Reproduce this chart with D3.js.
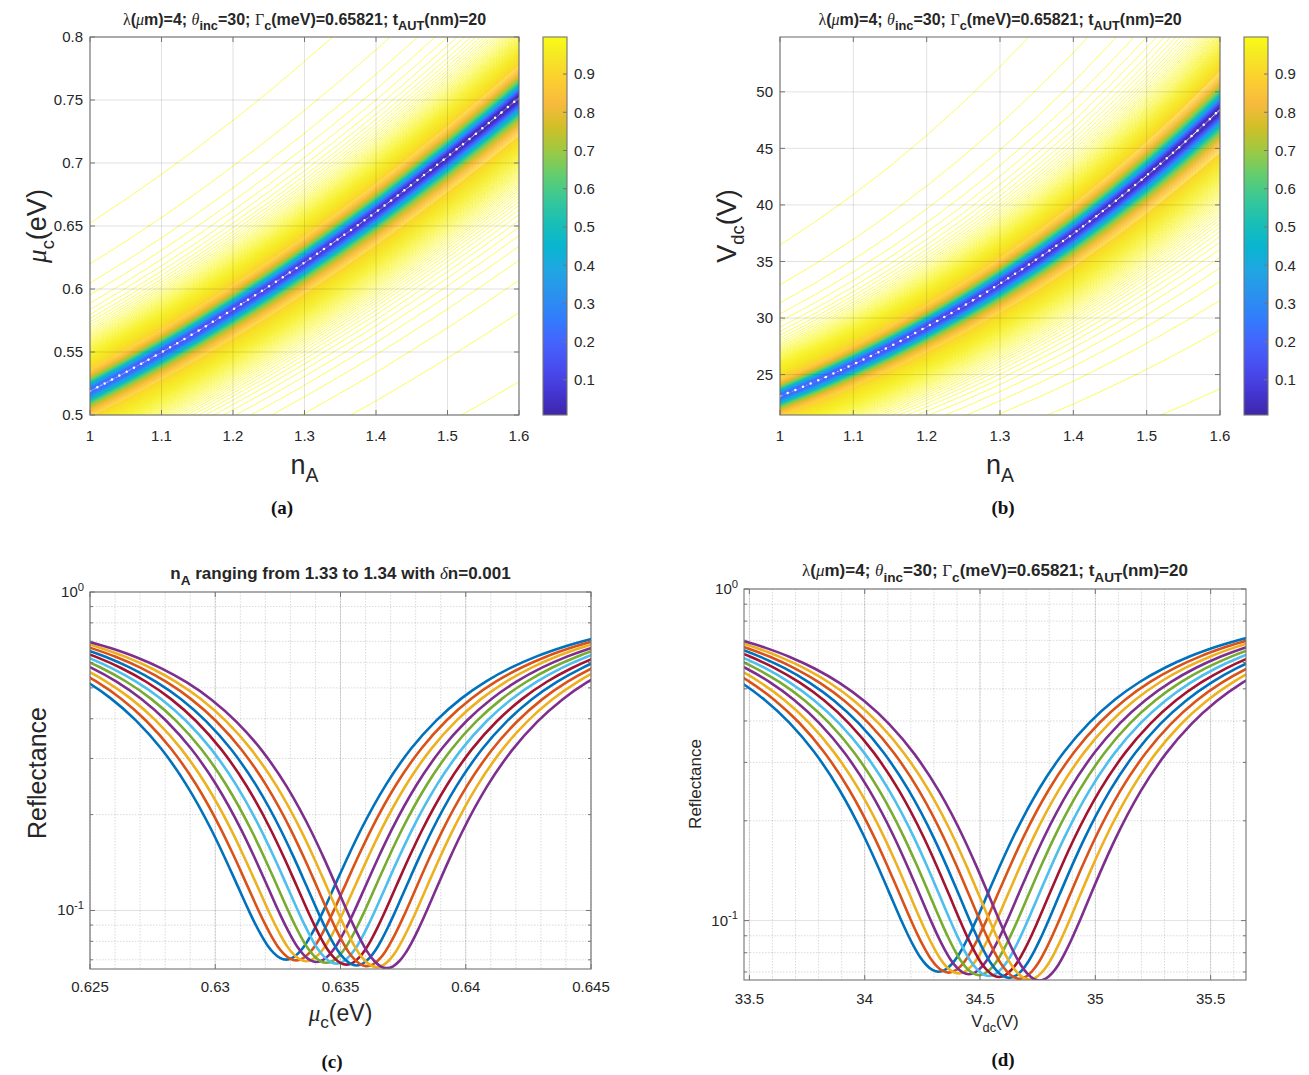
<!DOCTYPE html>
<html>
<head>
<meta charset="utf-8">
<script src="https://cdn.jsdelivr.net/npm/d3@7/dist/d3.min.js"></script>
<style>
html,body{margin:0;padding:0;background:#fff;}
svg text{white-space:pre;}
</style>
</head>
<body>
<svg id="fig" width="1309" height="1075" xmlns="http://www.w3.org/2000/svg"></svg>
<script>
// ================= DATA =================
// panels (a),(b): reflectance map
const nARange = [1, 1.6];
const muRange = [0.5, 0.8];
const nATicks = [1, 1.1, 1.2, 1.3, 1.4, 1.5, 1.6];
const muTicks = [0.5, 0.55, 0.6, 0.65, 0.7, 0.75, 0.8];
const vdcTicks = [25, 30, 35, 40, 45, 50];
const colorbarTicks = [0.1, 0.2, 0.3, 0.4, 0.5, 0.6, 0.7, 0.8, 0.9];
const colorbarRange = [0.008, 0.997];
const voltPerEV2 = 85.7;

const ridgeNA   = [1.00, 1.05, 1.10, 1.15, 1.20, 1.25, 1.30, 1.35, 1.40, 1.45, 1.50, 1.55, 1.60];
const ridgeMu   = [0.5190, 0.5340, 0.5498, 0.5664, 0.5839, 0.6020, 0.6210, 0.6408, 0.6612, 0.6829, 0.7051, 0.7281, 0.7518];
const ridgeRmin = [0.22, 0.19, 0.165, 0.14, 0.12, 0.10, 0.082, 0.064, 0.048, 0.034, 0.022, 0.013, 0.008];
const ridgeWidth = {up: 0.030, low: 0.035, tail: 1.25};   // relative half widths and tail exponent
const contourFine = {step: 0.00082, from: 0.90};          // closely spaced levels near R = 1
const contourCoarse = {step: 0.004, from: 0.008};         // levels inside the dip

// panels (c),(d): reflectance curves
const curveNA = [1.330, 1.331, 1.332, 1.333, 1.334, 1.335, 1.336, 1.337, 1.338, 1.339, 1.340];
const curveColors = ['#0072BD', '#D95319', '#EDB120', '#7E2F8E', '#77AC30', '#4DBEEE', '#A2142F',
                     '#0072BD', '#D95319', '#EDB120', '#7E2F8E'];
const dipCenterMu = [0.63283, 0.63323, 0.63363, 0.63404, 0.63444, 0.63484, 0.63524, 0.63564, 0.63605, 0.63645, 0.63685];
const dipMinR     = [0.0701, 0.0697, 0.0693, 0.0689, 0.0685, 0.0681, 0.0676, 0.0672, 0.0668, 0.0664, 0.0659];
// common dip profile: offset from the minimum (meV of mu_c) and rise of R above the minimum
const dipOffset = [0, 0.25, 0.5, 0.75, 1, 1.25, 1.5, 2, 2.5, 3, 4, 5, 6, 7, 8, 9, 10, 11, 12.5];
const dipRise   = [0, 0.0009, 0.0035, 0.0077, 0.0137, 0.0212, 0.0302, 0.0524, 0.0793, 0.1101,
                   0.1793, 0.2529, 0.3253, 0.3933, 0.4550, 0.5098, 0.5579, 0.5997, 0.6523];
const muRangeC = [0.625, 0.645];
const muTicksC = [0.625, 0.63, 0.635, 0.64, 0.645];
const vdcTicksD = [33.5, 34, 34.5, 35, 35.5];
const reflRangeC = [0.0655, 1];
const reflRangeD = [0.0662, 1];
const reflMajor = [0.1, 1];
const reflMinor = [0.07, 0.08, 0.09, 0.2, 0.3, 0.4, 0.5, 0.6, 0.7, 0.8, 0.9];

// ================= STYLE =================
const INK = '#262626', AXC = '#747474';
const SANS = '"Liberation Sans", Arial, Helvetica, sans-serif';
const SERIF = '"Liberation Serif", "Times New Roman", Times, serif';
const parulaIdx = [0, 4, 8, 12, 16, 20, 24, 28, 32, 36, 40, 44, 48, 52, 56, 60, 63];
const parulaRGB = [
 [0.2422,0.1504,0.6603],[0.2706,0.2147,0.8364],[0.2813,0.3006,0.9414],[0.2699,0.3892,0.9906],
 [0.1963,0.4847,0.9892],[0.1687,0.5703,0.9359],[0.1248,0.6459,0.8883],[0.0297,0.7082,0.8163],
 [0.0964,0.7500,0.7120],[0.2161,0.7843,0.5923],[0.3909,0.8029,0.4354],[0.6174,0.7876,0.2612],
 [0.8203,0.7498,0.1535],[0.9728,0.7298,0.2394],[0.9892,0.8136,0.1885],[0.9597,0.9135,0.1423],
 [0.9769,0.9839,0.0805]];
const parulaCols = parulaRGB.map(c => d3.rgb(c[0]*255, c[1]*255, c[2]*255).formatHex());
const parula = d3.scaleLinear()
  .domain(parulaIdx.map(i => colorbarRange[0] + (colorbarRange[1]-colorbarRange[0]) * i / 63))
  .range(parulaCols).clamp(true);

const svg = d3.select('#fig');
const defs = svg.append('defs');

const PA = {x0: 90,  x1: 519,  y0: 37,  y1: 415};
const PB = {x0: 780, x1: 1220, y0: 37,  y1: 415};
const PC = {x0: 90,  x1: 591,  y0: 592, y1: 969};
const PD = {x0: 744, x1: 1246, y0: 589, y1: 980};

// ---------- helpers ----------
function rich(parent, x, y, parts, o) {
  const t = parent.append('text').attr('x', x).attr('y', y)
    .attr('text-anchor', o.anchor || 'middle')
    .attr('font-family', SANS).attr('font-size', o.size)
    .attr('font-weight', o.weight || 'normal').attr('fill', INK);
  if (o.rotate) t.attr('transform', `rotate(-90,${x},${y})`);
  let prev = 0;
  parts.forEach(p => {
    const b = p.sub ? o.size * (o.drop || 0.35) : (p.sup ? -o.size * 0.42 : 0);
    const s = t.append('tspan').text(p.t);
    if (b !== prev) s.attr('dy', b - prev);
    prev = b;
    if (p.f) s.attr('font-family', p.f);
    if (p.i) s.attr('font-style', 'italic');
    if (p.w) s.attr('font-weight', p.w);
    if (p.sub || p.sup) s.attr('font-size', o.size * (o.subScale || 0.82));
  });
  return t;
}
function clipFor(P, id) {
  defs.append('clipPath').attr('id', id).append('rect')
    .attr('x', P.x0).attr('y', P.y0).attr('width', P.x1 - P.x0).attr('height', P.y1 - P.y0);
  return `url(#${id})`;
}
function box(g, P) {
  g.append('rect').attr('x', P.x0).attr('y', P.y0).attr('width', P.x1 - P.x0).attr('height', P.y1 - P.y0)
    .attr('fill', 'none').attr('stroke', AXC).attr('stroke-width', 1.1);
}
function gridLines(g, P, xs, ys, xVals, yVals, opts) {
  const gg = g.append('g').attr('stroke', INK).attr('stroke-opacity', opts.op).attr('stroke-width', opts.w || 0.9);
  if (opts.dash) gg.attr('stroke-dasharray', opts.dash);
  xVals.forEach(v => gg.append('line').attr('x1', xs(v)).attr('x2', xs(v)).attr('y1', P.y0).attr('y2', P.y1));
  yVals.forEach(v => gg.append('line').attr('y1', ys(v)).attr('y2', ys(v)).attr('x1', P.x0).attr('x2', P.x1));
}
function ticks(g, P, xs, ys, xVals, yVals, len) {
  const gg = g.append('g').attr('stroke', AXC).attr('stroke-width', 1);
  xVals.forEach(v => {
    gg.append('line').attr('x1', xs(v)).attr('x2', xs(v)).attr('y1', P.y1).attr('y2', P.y1 - len);
    gg.append('line').attr('x1', xs(v)).attr('x2', xs(v)).attr('y1', P.y0).attr('y2', P.y0 + len);
  });
  yVals.forEach(v => {
    gg.append('line').attr('y1', ys(v)).attr('y2', ys(v)).attr('x1', P.x0).attr('x2', P.x0 + len);
    gg.append('line').attr('y1', ys(v)).attr('y2', ys(v)).attr('x1', P.x1).attr('x2', P.x1 - len);
  });
}
function tickLabels(g, P, xs, ys, xVals, yVals, size, xBase) {
  xVals.forEach(v => g.append('text').attr('x', xs(v)).attr('y', xBase).attr('text-anchor', 'middle')
    .attr('font-family', SANS).attr('font-size', size).attr('fill', INK).text(String(v)));
  yVals.forEach(v => g.append('text').attr('x', P.x0 - 7).attr('y', ys(v) + size * 0.36).attr('text-anchor', 'end')
    .attr('font-family', SANS).attr('font-size', size).attr('fill', INK).text(String(v)));
}
const TITLE_PARTS = [
  {t: 'λ', f: SERIF, w: 'normal'}, {t: '('}, {t: 'μ', f: SERIF, i: true, w: 'normal'}, {t: 'm)=4; '},
  {t: 'θ', f: SERIF, i: true, w: 'normal'}, {t: 'inc', sub: true}, {t: '=30; '},
  {t: 'Γ', f: SERIF, w: 'normal'}, {t: 'c', sub: true}, {t: '(meV)=0.65821; t'},
  {t: 'AUT', sub: true}, {t: '(nm)=20'}];

// ---------- reflectance map (a),(b) ----------
const ridgeMuAt = d3.scaleLinear().domain(ridgeNA).range(ridgeMu);
const ridgeRminAt = d3.scaleLinear().domain(ridgeNA).range(ridgeRmin);
function reflect(n, mu) {
  const m0 = ridgeMuAt(n), r0 = Math.max(ridgeRminAt(n), 0.005);
  const x = 2 * (mu / m0 - 1);
  const u = x / (x > 0 ? ridgeWidth.up : ridgeWidth.low);
  const q = Math.pow(1 + u * u, -ridgeWidth.tail);
  return 1 - q + r0 * q * q;
}
const levels = [];
for (let L = contourCoarse.from; L < contourFine.from; L += contourCoarse.step) levels.push(+L.toFixed(5));
for (let k = Math.floor((1 - contourFine.from) / contourFine.step); k >= 1; k--) levels.push(+(1 - k * contourFine.step).toFixed(6));

function drawMap(P, volt, id, ylabelParts, cbX) {
  const g = svg.append('g');
  const xs = d3.scaleLinear().domain(nARange).range([P.x0, P.x1]);
  const yDom = volt ? muRange.map(m => voltPerEV2 * m * m) : muRange;
  const ys = d3.scaleLinear().domain(yDom).range([P.y1, P.y0]);
  const clip = clipFor(P, id);

  // contour field
  const step = 1.5, pad = 2;
  const left = P.x0 - pad * step, top = P.y0 - pad * step;
  const nx = Math.ceil((P.x1 - P.x0) / step) + 2 * pad, ny = Math.ceil((P.y1 - P.y0) / step) + 2 * pad;
  const vals = new Float64Array(nx * ny);
  for (let j = 0; j < ny; j++) {
    const yv = ys.invert(top + (j + 0.5) * step);
    const mu = volt ? Math.sqrt(Math.max(yv, 0.01) / voltPerEV2) : yv;
    for (let i = 0; i < nx; i++) vals[j * nx + i] = reflect(xs.invert(left + (i + 0.5) * step), mu);
  }
  const cs = d3.contours().size([nx, ny]).thresholds(levels)(vals);
  const path = d3.geoPath(d3.geoIdentity().scale(step).translate([left, top]));
  if (path.digits) path.digits(1);
  // high levels first so the deeper (bluer) levels stay visible in the dense core
  g.append('g').attr('clip-path', clip).selectAll('path')
    .data(cs.filter(c => c.coordinates.length).reverse()).join('path')
    .attr('d', path).attr('fill', 'none').attr('stroke', c => parula(c.value)).attr('stroke-width', 0.75);

  // ridge dots
  const ridge = d3.line().x((d, i) => xs(ridgeNA[i]))
    .y((d, i) => ys(volt ? voltPerEV2 * ridgeMu[i] * ridgeMu[i] : ridgeMu[i])).curve(d3.curveNatural);
  g.append('path').attr('clip-path', clip).attr('d', ridge(ridgeNA)).attr('fill', 'none')
    .attr('stroke', '#ffffff').attr('stroke-width', 2.5).attr('stroke-linecap', 'round')
    .attr('stroke-dasharray', '0 8.3');

  const yT = volt ? vdcTicks : muTicks;
  gridLines(g, P, xs, ys, nATicks, yT, {op: 0.15});
  box(g, P);
  ticks(g, P, xs, ys, nATicks, yT, 5);
  tickLabels(g, P, xs, ys, nATicks, yT, 15, 441);

  rich(svg, (P.x0 + P.x1) / 2, 25, TITLE_PARTS, {size: 16, weight: 'bold', drop: 0.33, subScale: 0.8});
  rich(svg, (P.x0 + P.x1) / 2, 474, [{t: 'n'}, {t: 'A', sub: true}], {size: 27, drop: 0.3, subScale: 0.72});
  rich(svg, P.x0 - 44, (P.y0 + P.y1) / 2, ylabelParts, {size: 27, rotate: true, drop: 0.3, subScale: 0.68});

  // colorbar
  const gid = id + 'grad';
  const grad = defs.append('linearGradient').attr('id', gid).attr('x1', 0).attr('x2', 0).attr('y1', 1).attr('y2', 0);
  parulaIdx.forEach((k, i) => grad.append('stop').attr('offset', k / 63).attr('stop-color', parulaCols[i]));
  const cbs = d3.scaleLinear().domain(colorbarRange).range([P.y1, P.y0]);
  g.append('rect').attr('x', cbX).attr('y', P.y0).attr('width', 24).attr('height', P.y1 - P.y0)
    .attr('fill', `url(#${gid})`).attr('stroke', AXC).attr('stroke-width', 1.1);
  colorbarTicks.forEach(v => {
    g.append('line').attr('x1', cbX + 24).attr('x2', cbX + 20).attr('y1', cbs(v)).attr('y2', cbs(v))
      .attr('stroke', AXC).attr('stroke-width', 1);
    g.append('text').attr('x', cbX + 31).attr('y', cbs(v) + 5.4).attr('font-family', SANS)
      .attr('font-size', 15).attr('fill', INK).text(String(v));
  });
}

drawMap(PA, false, 'clipA', [{t: 'μ', f: SERIF, i: true}, {t: 'c', sub: true}, {t: '(eV)'}], 543);
drawMap(PB, true, 'clipB', [{t: 'V'}, {t: 'dc', sub: true}, {t: '(V)'}], 1244);

// ---------- reflectance curves (c),(d) ----------
function drawCurves(P, volt, id, yRange, opt) {
  const g = svg.append('g');
  const toX = mu => volt ? voltPerEV2 * mu * mu : mu;
  const xs = d3.scaleLinear().domain(muRangeC.map(toX)).range([P.x0, P.x1]);
  const ys = d3.scaleLog().domain(yRange).range([P.y1, P.y0]);
  const clip = clipFor(P, id);
  const xTicks = volt ? vdcTicksD : muTicksC;
  const dom = xs.domain();
  const minorX = [];
  if (volt) { for (let v = 33.5; v < dom[1]; v += 0.1) minorX.push(+v.toFixed(2)); }
  else { for (let v = 0.625; v <= 0.6451; v += 0.001) minorX.push(+v.toFixed(4)); }

  gridLines(g, P, xs, ys, minorX, reflMinor, {op: 0.22, dash: '1.5 1.5', w: 0.8});
  gridLines(g, P, xs, ys, xTicks, reflMajor, {op: 0.15});

  const line = d3.line().x(d => xs(d[0])).y(d => ys(d[1])).curve(d3.curveMonotoneX);
  const cg = g.append('g').attr('clip-path', clip);
  curveNA.forEach((n, k) => {
    const pts = [];
    for (let i = dipOffset.length - 1; i > 0; i--) pts.push([toX(dipCenterMu[k] - dipOffset[i] / 1000), dipMinR[k] + dipRise[i]]);
    for (let i = 0; i < dipOffset.length; i++) pts.push([toX(dipCenterMu[k] + dipOffset[i] / 1000), dipMinR[k] + dipRise[i]]);
    cg.append('path').attr('d', line(pts)).attr('fill', 'none').attr('stroke', curveColors[k])
      .attr('stroke-width', 2.6).attr('stroke-linejoin', 'round');
  });

  box(g, P);
  ticks(g, P, xs, ys, xTicks, reflMajor, 5);
  ticks(g, P, xs, ys, [], reflMinor, 3);
  xTicks.forEach(v => g.append('text').attr('x', xs(v)).attr('y', opt.xBase).attr('text-anchor', 'middle')
    .attr('font-family', SANS).attr('font-size', 15).attr('fill', INK).text(String(v)));
  reflMajor.forEach(v => {
    const e = Math.round(Math.log10(v));
    rich(g, P.x0 - 6, ys(v) + 5, [{t: '10'}, {t: String(e), sup: true}], {size: 15, anchor: 'end', subScale: 0.75});
  });
  rich(svg, (P.x0 + P.x1) / 2, opt.titleY, opt.title, {size: 17, weight: 'bold', drop: 0.33, subScale: 0.8});
  rich(svg, (P.x0 + P.x1) / 2, opt.xlabY, opt.xlab, {size: opt.labSize, drop: 0.3, subScale: 0.75});
  rich(svg, opt.ylabX, opt.ylabY, [{t: 'Reflectance'}], {size: opt.ylabSize, rotate: true});
}

drawCurves(PC, false, 'clipC', reflRangeC, {
  xBase: 992, titleY: 579, xlabY: 1021, labSize: 23, ylabX: 46, ylabY: 773, ylabSize: 25,
  title: [{t: 'n'}, {t: 'A', sub: true}, {t: ' ranging from 1.33 to 1.34 with '}, {t: 'δ', f: SERIF, i: true, w: 'normal'}, {t: 'n=0.001'}],
  xlab: [{t: 'μ', f: SERIF, i: true}, {t: 'c', sub: true}, {t: '(eV)'}]
});
drawCurves(PD, true, 'clipD', reflRangeD, {
  xBase: 1004, titleY: 576, xlabY: 1027, labSize: 17, ylabX: 701, ylabY: 784, ylabSize: 17,
  title: TITLE_PARTS,
  xlab: [{t: 'V'}, {t: 'dc', sub: true}, {t: '(V)'}]
});

// ---------- sub-figure captions ----------
[['(a)', 282, 514], ['(b)', 1003, 514], ['(c)', 332, 1068], ['(d)', 1003, 1066]].forEach(c =>
  svg.append('text').attr('x', c[1]).attr('y', c[2]).attr('text-anchor', 'middle')
    .attr('font-family', SERIF).attr('font-weight', 'bold').attr('font-size', 19).attr('fill', '#111').text(c[0]));
</script>
</body>
</html>
